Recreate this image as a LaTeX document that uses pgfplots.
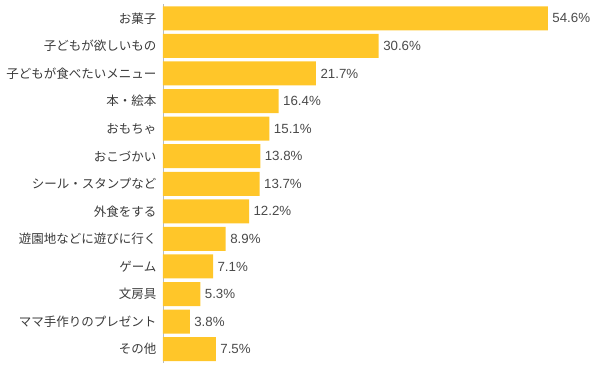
\documentclass[border=0pt]{standalone}
\usepackage{pgfplots}
\pgfplotsset{compat=1.18}
\usepackage{fontspec}
\setmainfont{Noto Sans CJK JP}
\newfontfamily\numfont{Liberation Sans}
\definecolor{baryellow}{HTML}{FFC629}
\definecolor{txt}{HTML}{3A3A3A}
\definecolor{numtxt}{HTML}{4A4A4A}
\definecolor{axisgray}{HTML}{BBBBBB}
\begin{document}
\begin{tikzpicture}[x=1pt,y=1pt]
\useasboundingbox (0,0) rectangle (600,369);
\begin{axis}[
  at={(163pt,6pt)}, anchor=south west,
  scale only axis,
  width=423pt, height=358.5pt,
  xbar, bar width=24pt, bar shift=0pt,
  xmin=0, xmax=60,
  ymin=-0.5, ymax=12.5,
  y dir=reverse,
  hide x axis,
  axis y line*=left,
  y axis line style={axisgray, line width=0.8pt},
  ytick={0,...,12},
  yticklabels={お菓子,子どもが欲しいもの,子どもが食べたいメニュー,本・絵本,おもちゃ,おこづかい,シール・スタンプなど,外食をする,遊園地などに遊びに行く,ゲーム,文房具,ママ手作りのプレゼント,その他},
  major tick length=0pt,
  yticklabel style={font=\fontsize{12.5}{13}\selectfont, text=txt, xshift=-3pt},
  /pgf/number format/assume math mode=true,
  nodes near coords={\pgfmathprintnumber[fixed,precision=1,fixed zerofill]{\pgfplotspointmeta}\%},
  nodes near coords style={font=\numfont\fontsize{13.3}{14}\selectfont, text=numtxt, anchor=west, xshift=1pt},
  point meta=x,
  clip=false,
]
\addplot[fill=baryellow, draw=none] coordinates {
(54.6,0) (30.6,1) (21.7,2) (16.4,3) (15.1,4) (13.8,5) (13.7,6) (12.2,7) (8.9,8) (7.1,9) (5.3,10) (3.8,11) (7.5,12)
};
\end{axis}
\end{tikzpicture}
\end{document}
